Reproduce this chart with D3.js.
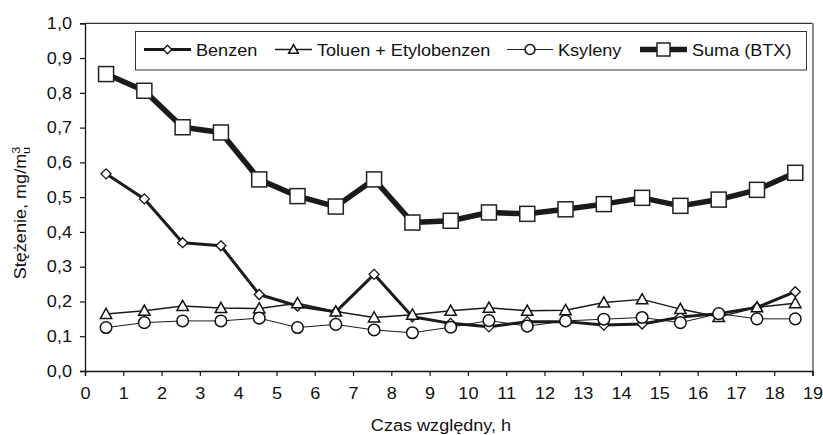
<!DOCTYPE html>
<html>
<head>
<meta charset="utf-8">
<script src="https://cdn.jsdelivr.net/npm/d3@7"></script>
<style>
  html, body { margin: 0; padding: 0; background: #fff; }
  svg { display: block; font-family: "Liberation Sans", Arial, sans-serif; }
</style>
</head>
<body>
<svg id="chart" width="823" height="435"></svg>
<script>
// ---- data ----
const hours = [0.55, 1.55, 2.55, 3.55, 4.55, 5.55, 6.55, 7.55, 8.55, 9.55, 10.55, 11.55, 12.55, 13.55, 14.55, 15.55, 16.55, 17.55, 18.55];
const benzen = [0.567, 0.495, 0.369, 0.360, 0.220, 0.187, 0.170, 0.278, 0.156, 0.137, 0.127, 0.142, 0.142, 0.132, 0.135, 0.155, 0.165, 0.183, 0.228];
const toluen = [0.164, 0.173, 0.187, 0.181, 0.180, 0.195, 0.171, 0.154, 0.162, 0.173, 0.182, 0.173, 0.175, 0.197, 0.206, 0.178, 0.155, 0.183, 0.195];
const ksyleny = [0.125, 0.139, 0.144, 0.144, 0.152, 0.125, 0.134, 0.118, 0.110, 0.126, 0.145, 0.129, 0.144, 0.149, 0.154, 0.139, 0.165, 0.150, 0.150];
const suma = [0.854, 0.806, 0.701, 0.686, 0.551, 0.503, 0.473, 0.551, 0.427, 0.432, 0.456, 0.452, 0.465, 0.480, 0.498, 0.475, 0.493, 0.521, 0.570];
const seriesNames = ["Benzen", "Toluen + Etylobenzen", "Ksyleny", "Suma (BTX)"];
const xTicks = d3.range(0, 20);
const yTicks = [0, 0.1, 0.2, 0.3, 0.4, 0.5, 0.6, 0.7, 0.8, 0.9, 1.0];
const xTitle = "Czas względny, h";

// ---- layout ----
const svg = d3.select("#chart");
const L = 85, R = 812.5, T = 23.3, B = 371;
const FS = 16.3, SX = 1.11;   // font size and horizontal stretch of the reference lettering
const x = d3.scaleLinear().domain([0, 19]).range([L, R]);
const y = d3.scaleLinear().domain([0, 1]).range([B, T]);
const fmt = d => d3.format(".1f")(d).replace(".", ",");

function stretch(sel) {
  sel.each(function () {
    const t = d3.select(this);
    const tx = +t.attr("x") || 0, ty = +t.attr("y") || 0;
    t.attr("x", null).attr("y", null)
      .attr("transform", `translate(${tx},${ty}) scale(${SX},1)`);
  });
}

// frame: top black, right grey
svg.append("line").attr("x1", L).attr("x2", R).attr("y1", T).attr("y2", T)
  .attr("stroke", "#000").attr("stroke-width", 1);
svg.append("line").attr("x1", R + 0.5).attr("x2", R + 0.5).attr("y1", T).attr("y2", B)
  .attr("stroke", "#8c8c8c").attr("stroke-width", 2);

// axes
const yAxis = d3.axisLeft(y).tickValues(yTicks).tickFormat(fmt).tickSize(5).tickPadding(8);
const gy = svg.append("g").attr("transform", `translate(${L},0)`).call(yAxis);
const xAxis = d3.axisBottom(x).tickValues(xTicks).tickFormat(d3.format("d")).tickSize(5).tickPadding(11);
const gx = svg.append("g").attr("transform", `translate(0,${B})`).call(xAxis);
[gx, gy].forEach(g => {
  g.attr("font-size", FS).attr("font-family", "Liberation Sans, Arial, sans-serif");
  g.select(".domain").attr("stroke", "#111").attr("stroke-width", 1.3);
  g.selectAll(".tick line").attr("stroke", "#111").attr("stroke-width", 1.2);
  g.selectAll(".tick text").attr("font-size", FS).attr("fill", "#111");
});
stretch(gy.selectAll(".tick text"));
stretch(gx.selectAll(".tick text"));

// titles
svg.append("text").attr("x", 441).attr("y", 431)
  .attr("text-anchor", "middle").attr("font-size", FS).attr("fill", "#111").text(xTitle)
  .call(stretch);
const yt = svg.append("text").attr("transform", `translate(26,213) rotate(-90) scale(${SX},1)`)
  .attr("text-anchor", "middle").attr("font-size", FS).attr("fill", "#111");
yt.append("tspan").text("Stężenie, mg/m");
yt.append("tspan").attr("dy", -6.5).attr("font-size", 11.5).text("3");
yt.append("tspan").attr("dx", -6.5).attr("dy", 10.5).attr("font-size", 11.5).text("u");

// series config
const series = [
  { name: seriesNames[0], values: benzen, width: 3, marker: "diamond", size: 5 },
  { name: seriesNames[1], values: toluen, width: 1.5, marker: "triangle", size: 6 },
  { name: seriesNames[2], values: ksyleny, width: 1, marker: "circle", size: 5.8 },
  { name: seriesNames[3], values: suma, width: 5.5, marker: "square", size: 7.5 }
];

function drawMarker(g, type, cx, cy, s) {
  if (type === "diamond") {
    g.append("path").attr("d", `M${cx},${cy - s}L${cx + s},${cy}L${cx},${cy + s}L${cx - s},${cy}Z`)
      .attr("fill", "#fff").attr("stroke", "#111").attr("stroke-width", 1.3);
  } else if (type === "triangle") {
    g.append("path").attr("d", `M${cx},${cy - s * 0.95}L${cx + s * 0.95},${cy + s * 0.75}L${cx - s * 0.95},${cy + s * 0.75}Z`)
      .attr("fill", "#fff").attr("stroke", "#111").attr("stroke-width", 1.5);
  } else if (type === "circle") {
    g.append("circle").attr("cx", cx).attr("cy", cy).attr("r", s)
      .attr("fill", "#fff").attr("stroke", "#111").attr("stroke-width", 1.5);
  } else {
    g.append("rect").attr("x", cx - s).attr("y", cy - s).attr("width", 2 * s).attr("height", 2 * s)
      .attr("fill", "#fff").attr("stroke", "#222").attr("stroke-width", 1.5);
  }
}

const line = d3.line().x((d, i) => x(hours[i])).y(d => y(d));
series.forEach(s => {
  const g = svg.append("g");
  g.append("path").attr("d", line(s.values)).attr("fill", "none")
    .attr("stroke", "#1a1a1a").attr("stroke-width", s.width).attr("stroke-linejoin", "round");
  s.values.forEach((v, i) => drawMarker(g, s.marker, x(hours[i]), y(v), s.size));
});

// legend
const lg = svg.append("g");
lg.append("rect").attr("x", 135.5).attr("y", 31.5).attr("width", 671).attr("height", 38.5)
  .attr("fill", "#fff").attr("stroke", "#333").attr("stroke-width", 1);
const legendX = [144, 275, 507, 640];
const legendLen = [47, 37, 46, 47];
series.forEach((s, i) => {
  const x0 = legendX[i], ly = 49.5;
  lg.append("line").attr("x1", x0).attr("x2", x0 + legendLen[i]).attr("y1", ly).attr("y2", ly)
    .attr("stroke", "#1a1a1a").attr("stroke-width", s.width);
  drawMarker(lg, s.marker, x0 + legendLen[i] / 2, ly, s.marker === "square" ? 6.5 : s.size * 0.85);
  lg.append("text").attr("x", x0 + legendLen[i] + 5).attr("y", ly + 6)
    .attr("font-size", FS).attr("fill", "#111").text(s.name).call(stretch);
});
</script>
</body>
</html>
